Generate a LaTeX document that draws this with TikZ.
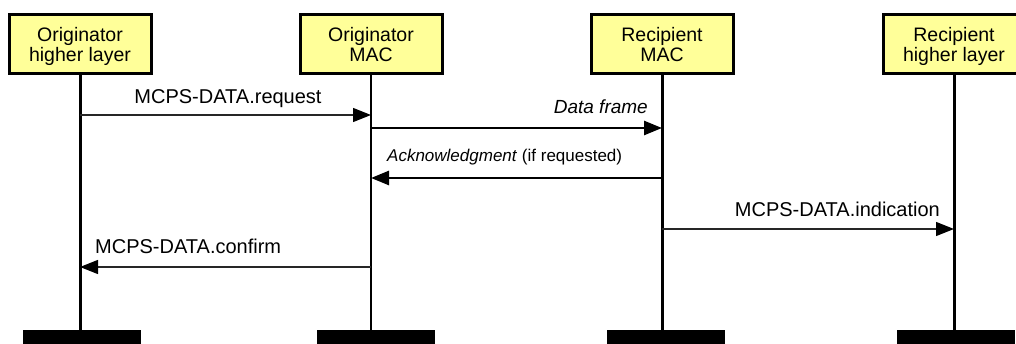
\documentclass[tikz,border=0pt]{standalone}
\usepackage{fontspec}
\setmainfont{Liberation Sans}
\usetikzlibrary{arrows.meta}
\definecolor{boxfill}{RGB}{255,255,153}
\begin{document}
\begin{tikzpicture}[x=1pt,y=-1pt,
  layerbox/.style={draw=black, line width=3pt, fill=boxfill,
    minimum width=142pt, minimum height=59pt, align=center, inner sep=0pt,
    text depth=0pt, font=\fontsize{19.5}{20}\selectfont},
  stopbar/.style={fill=black, minimum width=118pt, minimum height=20pt, inner sep=0pt},
  lifeline/.style={line width=3pt},
  msgtip/.style={-{Triangle[length=18pt,width=14pt,color=black]}},
  thinmsg/.style={msgtip, line width=1.3pt, draw=black!85},
  thickmsg/.style={msgtip, line width=2.6pt, draw=black},
  lbl/.style={inner sep=0pt, font=\fontsize{20}{22}\selectfont},
]
\clip (0,0) rectangle (1016,344);

% participants
\node[layerbox] (ohl)  at (80,44)  {Originator\\higher layer};
\node[layerbox] (omac) at (371,44) {Originator\\MAC};
\node[layerbox] (rmac) at (662,44) {Recipient\\MAC};
\node[layerbox] (rhl)  at (954,44) {Recipient\\higher layer};

% end-of-lifeline bars
\node[stopbar] (ohlend)  at (82,340)  {};
\node[stopbar] (omacend) at (376,340) {};
\node[stopbar] (rmacend) at (666,340) {};
\node[stopbar] (rhlend)  at (956,340) {};

% lifelines
\draw[lifeline] (ohl.south)  -- (ohl.south  |- ohlend.north);
\draw[lifeline, line width=2.5pt] (omac.south) -- (omac.south |- omacend.north);
\draw[lifeline] (rmac.south) -- (rmac.south |- rmacend.north);
\draw[lifeline] (rhl.south)  -- (rhl.south  |- rhlend.north);

% message rows
\coordinate (row1) at (0,115);
\coordinate (row2) at (0,128);
\coordinate (row3) at (0,178);
\coordinate (row4) at (0,229);
\coordinate (row5) at (0,267);

% messages
\draw[thinmsg]  (ohl  |- row1) -- (omac |- row1);
\draw[thickmsg] (omac |- row2) -- (rmac |- row2);
\draw[thickmsg] (rmac |- row3) -- (omac |- row3);
\draw[thinmsg]  (rmac |- row4) -- (rhl  |- row4);
\draw[thinmsg]  (omac |- row5) -- (ohl  |- row5);

% message labels
\node[lbl, anchor=base] (l1) at (228,104) {MCPS-DATA.request};
\node[lbl, anchor=base east, font=\fontsize{19}{20}\selectfont\itshape] (l2) at (648,114) {Data frame};
\node[lbl, anchor=base west, font=\fontsize{17}{18}\selectfont] (l3) at (387,162) {\textit{Acknowledgment} (if requested)};
\node[lbl, anchor=base east] (l4) at (940,217) {MCPS-DATA.indication};
\node[lbl, anchor=base west] (l5) at (95,254) {MCPS-DATA.confirm};
\end{tikzpicture}
\end{document}
